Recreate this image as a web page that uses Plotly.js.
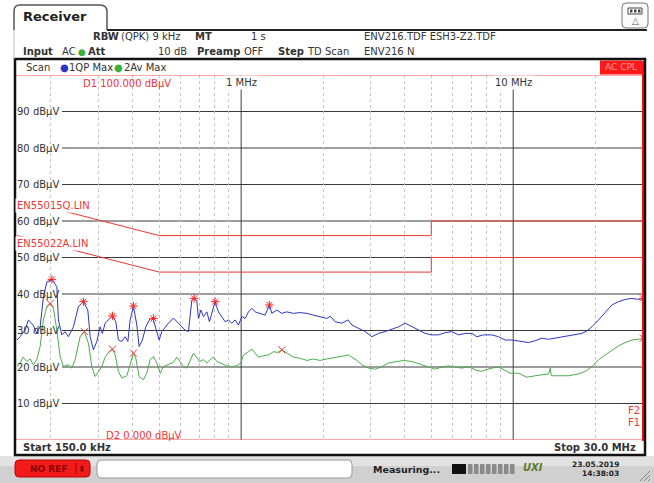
<!DOCTYPE html>
<html><head><meta charset="utf-8">
<script src="https://cdn.plot.ly/plotly-3.0.1.min.js"></script>
<style>body{margin:0;background:#fff}#c{width:654px;height:483px}</style>
</head><body><div id="c"></div><script>
// ---- data (MHz, dBµV) ----
const qpFreq=[0.150,0.154,0.1607,0.1652,0.1719,0.1773,0.1824,0.1876,0.1931,0.2014,
0.2101,0.2130,0.2193,0.2254,0.2318,0.2418,0.2522,0.2631,0.2731,0.2786,
0.2864,0.2948,0.3031,0.3091,0.3162,0.3252,0.3364,0.3462,0.3539,0.3642,
0.3746,0.3833,0.3908,0.4018,0.4136,0.4217,0.4336,0.4462,0.4628,0.4760,
0.4899,0.4995,0.5111,0.5224,0.5404,0.5638,0.5803,0.5967,0.6224,0.6401,
0.6494,0.6588,0.6718,0.6875,0.6966,0.7110,0.7269,0.7481,0.7646,0.7803,
0.8024,0.8252,0.8494,0.8734,0.8982,0.9243,0.9504,0.9774,1.006,1.034,
1.064,1.095,1.126,1.175,1.225,1.270,1.297,1.353,1.411,1.472,
1.557,1.648,1.744,1.845,1.951,2.066,2.125,2.216,2.346,2.468,
2.553,2.700,2.857,3.024,3.197,3.383,3.581,3.787,4.009,4.243,
4.486,4.749,5.024,5.313,5.623,5.952,6.294,6.661,7.050,7.355,
7.778,8.350,8.831,9.346,9.890,10.46,11.38,12.05,12.75,13.49,
14.27,15.10,15.97,16.90,17.89,18.66,19.47,20.59,21.79,23.07,
24.38,25.81,27.32,28.89,30.0];
const qpMax=[27.4,28.3,30.1,32.9,31.5,29.3,31.0,39.2,43.3,44.0,
42.0,32.9,28.8,29.7,28.3,31.0,36.5,37.9,35.6,28.3,
24.7,27.0,31.0,29.2,32.0,33.0,34.0,32.4,27.4,27.0,
28.3,27.0,32.9,36.7,31.5,25.6,27.4,31.0,33.3,32.9,
29.7,27.4,29.7,30.6,32.0,33.4,32.4,31.5,30.1,29.7,
33.8,38.3,38.8,37.9,33.3,35.6,33.8,35.1,32.4,34.7,
37.9,35.1,33.8,32.4,32.9,32.0,32.9,31.5,33.8,33.3,
35.1,36.1,35.1,34.7,34.2,37.0,34.7,35.6,34.7,35.1,
34.7,34.9,34.7,34.2,33.8,33.3,33.9,32.4,32.0,32.9,
31.5,30.6,29.7,28.3,29.2,29.7,30.3,31.0,32.0,31.0,
30.1,29.2,28.8,28.8,29.4,29.7,28.8,29.2,29.2,28.3,
28.8,28.8,28.3,27.4,27.4,27.2,26.7,27.2,27.9,27.6,
27.9,28.3,28.5,28.8,29.2,29.9,31.0,32.9,35.1,37.0,
37.9,38.5,38.8,38.5,38.8];
const avFreq=[0.150,0.154,0.1579,0.1629,0.1676,0.1723,0.1773,0.1824,0.1876,0.1931,
0.1985,0.2042,0.2101,0.2161,0.2222,0.2318,0.2385,0.2453,0.2559,0.2654,
0.2745,0.2826,0.2906,0.2988,0.3076,0.3162,0.3271,0.3364,0.3442,0.3539,
0.3642,0.3801,0.3908,0.4018,0.4101,0.4217,0.4373,0.4500,0.4628,0.4760,
0.4899,0.5038,0.5180,0.5404,0.5638,0.5803,0.5967,0.6136,0.6316,0.6494,
0.6678,0.6832,0.7026,0.7269,0.7481,0.7691,0.7911,0.8140,0.8494,0.8860,
0.9243,0.9643,0.9975,1.020,1.064,1.095,1.126,1.158,1.208,1.260,
1.315,1.360,1.411,1.472,1.557,1.648,1.744,1.845,1.951,2.066,
2.156,2.279,2.412,2.481,2.553,2.663,2.778,2.938,3.110,3.291,
3.479,3.684,3.951,4.243,4.551,4.883,5.168,5.470,5.783,6.121,
6.477,6.849,7.250,7.672,7.890,8.350,8.831,9.262,9.750,10.46,
11.23,12.05,12.75,13.49,13.68,13.80,14.67,15.97,17.38,18.40,
19.47,20.59,21.79,23.07,24.38,25.81,27.32,28.89,30.0];
const avMax=[20.1,21.1,22.7,21.5,22.2,20.6,22.0,25.6,32.9,36.5,
37.4,36.1,30.1,22.9,20.1,20.6,19.7,22.0,28.3,29.7,
26.5,20.1,17.4,18.8,20.1,22.7,24.2,24.9,23.3,18.8,
17.0,17.6,21.1,23.8,22.4,17.4,16.5,18.3,22.0,22.9,
21.1,18.3,20.1,20.6,21.3,22.7,21.5,20.1,19.7,22.0,
23.8,22.9,21.5,22.0,21.1,22.0,22.7,21.5,20.9,20.3,
20.1,20.3,21.1,23.3,24.2,24.9,23.8,22.7,23.1,23.3,
24.2,24.0,24.7,23.8,22.7,22.4,21.8,22.2,21.8,22.2,
22.4,22.7,23.1,23.3,22.7,21.8,20.6,19.7,19.4,20.1,
21.1,21.5,21.8,21.5,20.8,20.0,19.4,20.0,20.3,20.0,
19.7,20.1,19.2,18.8,19.2,19.7,20.0,19.2,18.3,18.3,
17.2,17.6,17.9,18.1,19.7,17.6,17.6,17.6,18.1,18.8,
20.1,22.0,23.3,24.7,25.8,26.7,27.4,27.6,27.9];
const qpPeakFreq=[0.2014,0.2631,0.3364,0.4018,0.4760,0.6718,0.8024,1.270,30.0];
const qpPeakVal=[44.0,37.9,34.0,36.7,33.3,38.8,37.9,37.0,38.8];
const avPeakFreq=[0.1985,0.2654,0.3364,0.4018,1.411,30.0];
const avPeakVal=[37.4,29.7,24.9,23.8,24.7,27.9];
const limitFreq=[0.15,0.5,5,5,30];
const en55015q=[66,56,56,60,60];
const en55022a=[56,46,46,50,50];
const levelTicks=[10,20,30,40,50,60,70,80,90];
const levelLabels=levelTicks.map(v=>v+' dBµV');
const minorFreq=[0.2,0.3,0.4,0.5,0.6,0.7,0.8,0.9,2,3,4,5,6,7,8,9,20];
const decadeFreq=[1,10];
const decadeLabels=['1 MHz','10 MHz'];

// ---- geometry helpers (pixel -> paper) ----
const L=17,R=643,T=75,B=440;
const P=px=>(px-L)/(R-L), Q=py=>(B-py)/(B-T);
const F='DejaVu Sans';
function txt(text,px,py,o={}){return {text:text,x:P(px),y:Q(py),xref:'paper',yref:'paper',
 xanchor:o.a||'left',yanchor:'middle',showarrow:false,borderpad:o.pad||0,bgcolor:o.bg||'rgba(0,0,0,0)',
 font:{family:o.f||F,size:o.s||10,color:o.c||'#333'}};}
function rect(x0,y0,x1,y1,fill,lc,lw,layer){return {type:'rect',xref:'paper',yref:'paper',x0:P(x0),x1:P(x1),y0:Q(y0),y1:Q(y1),
 fillcolor:fill||'rgba(0,0,0,0)',line:{color:lc||'rgba(0,0,0,0)',width:lw||0},layer:layer||'above'};}
function seg(x0,y0,x1,y1,c,w){return {type:'line',xref:'paper',yref:'paper',x0:P(x0),x1:P(x1),y0:Q(y0),y1:Q(y1),line:{color:c,width:w},layer:'above'};}
function rpath(x0,y0,x1,y1,r,fill,lc,lw){
 const a=P(x0),b=P(x1),c=Q(y0),d=Q(y1),rx=r/(R-L),ry=r/(B-T);
 return {type:'path',xref:'paper',yref:'paper',layer:'above',fillcolor:fill,line:{color:lc,width:lw},
 path:`M${a+rx},${c} L${b-rx},${c} Q${b},${c} ${b},${c-ry} L${b},${d+ry} Q${b},${d} ${b-rx},${d} L${a+rx},${d} Q${a},${d} ${a},${d+ry} L${a},${c-ry} Q${a},${c} ${a+rx},${c} Z`};}

const RED='#f03535';
const traces=[];
decadeFreq.forEach(f=>traces.push({x:[f,f],y:[0,100],mode:'lines',line:{color:'#3c3c3c',width:1},hoverinfo:'skip',showlegend:false}));
traces.push({x:limitFreq,y:en55015q,mode:'lines',line:{color:RED,width:1},showlegend:false});
traces.push({x:limitFreq,y:en55022a,mode:'lines',line:{color:RED,width:1},showlegend:false});
traces.push({x:avFreq,y:avMax,mode:'lines',line:{color:'#4aac4a',width:1},showlegend:false,name:'2Av Max'});
traces.push({x:qpFreq,y:qpMax,mode:'lines',line:{color:'#2d36c4',width:1},showlegend:false,name:'1QP Max'});
traces.push({x:qpPeakFreq,y:qpPeakVal,mode:'markers',marker:{symbol:'asterisk-open',size:7,color:'#ff2020',line:{color:'#ff2020',width:1}},showlegend:false});
traces.push({x:avPeakFreq,y:avPeakVal,mode:'markers',marker:{symbol:'x-thin-open',size:7,color:'#ff3030',line:{color:'#ff3030',width:1}},showlegend:false});

const shapes=[];
levelTicks.forEach(v=>shapes.push({type:'line',xref:'paper',yref:'y',x0:P(62),x1:1,y0:v,y1:v,line:{color:'#3a3a3a',width:1},layer:'below'}));
// D1 / D2 lines
shapes.push({type:'line',xref:'paper',yref:'y',x0:P(15),x1:1,y0:100,y1:100,line:{color:'#ff5050',width:1},layer:'above'});
shapes.push({type:'line',xref:'paper',yref:'y',x0:P(15),x1:P(645),y0:0,y1:0,line:{color:'#ff5050',width:1},layer:'above'});
// red right edge
shapes.push(seg(643,61,643,441,'#ff1010',2));
// AC CPL box
shapes.push(rect(600,60.5,642,74.5,'#ff1a1a'));
// inner box
shapes.push(rect(15,59,645,455,null,'#111',2.5));
// tab + header line
shapes.push({type:'path',xref:'paper',yref:'paper',layer:'above',line:{color:'#555',width:1.5},
 path:`M${P(14)},${Q(30)} L${P(14)},${Q(11)} Q${P(14)},${Q(5)} ${P(20)},${Q(5)} L${P(100)},${Q(5)} Q${P(107)},${Q(5)} ${P(107)},${Q(12)} L${P(107)},${Q(30)}`});
shapes.push(seg(107,30,647,30,'#222',2));
shapes.push(seg(14,30,14,59,'#bbb',1));
// top-right icon
shapes.push(rpath(622,3,648,28,4,'#fafafa','#777',1));
shapes.push(rect(628,8,642,14,'#fff','#444',1));
for(let i=0;i<3;i++) shapes.push(rect(630+i*4,9.5,632.5+i*4,12.5,'#444'));
// status bar
shapes.push(rect(0,456,654,483,'#d0d0d0',null,0,'below'));
shapes.push(rect(0,456,654,466,'#e2e2e2',null,0,'below'));
shapes.push(rpath(15,460,90,477,4,'#f21a1a','#b00',1));
shapes.push(seg(76,463,76,474,'#900',1));
shapes.push(rpath(97,460,352,478,4,'#ffffff','#999',1));
shapes.push(rect(452,464,466,474,'#111'));
for(let i=0;i<8;i++) shapes.push(rect(468+i*6,464,472.5+i*6,474,'#8a8a8a'));
for(let i=0;i<3;i++) shapes.push(seg(640+i*4,481,650,471+i*4,'#888',1));

const ann=[];
levelTicks.forEach((v,i)=>ann.push({text:levelLabels[i],x:P(61),xref:'paper',y:v,yref:'y',xanchor:'right',yanchor:'middle',showarrow:false,font:{family:F,size:10,color:'#333'}}));
decadeFreq.forEach((f,i)=>ann.push({text:decadeLabels[i],x:Math.log10(f),xref:'x',y:Q(82),yref:'paper',xanchor:'center',yanchor:'middle',showarrow:false,bgcolor:'#fff',borderpad:1,font:{family:F,size:10,color:'#333'}}));
ann.push(txt('EN55015Q.LIN',15,205,{c:RED,bg:'#fff',pad:1}));
ann.push(txt('EN55022A.LIN',15,243,{c:RED,bg:'#fff',pad:1}));
ann.push(txt('D1 100.000 dBµV',82,83,{c:RED}));
ann.push(txt('D2 0.000 dBµV',105,435,{c:RED}));
ann.push(txt('F2',641,410,{c:RED,a:'right'}));
ann.push(txt('F1',641,422,{c:RED,a:'right'}));
ann.push(txt('AC CPL',621,67.5,{c:'#ff9a9a',a:'center',s:9}));
ann.push(txt('<b>Receiver</b>',22,17,{s:13,c:'#222'}));
ann.push(txt('<b>RBW</b>',92,37));
ann.push(txt('(QPK) 9 kHz',120,37));
ann.push(txt('<b>MT</b>',194,37));
ann.push(txt('1 s',250,37));
ann.push(txt('ENV216.TDF ESH3-Z2.TDF',363,37));
ann.push(txt('<b>Input</b>',22,51.5));
ann.push(txt('AC',61,51.5));
ann.push(txt('●',76.5,51.5,{c:'#3cb03c',s:9}));
ann.push(txt('<b>Att</b>',87,51.5));
ann.push(txt('10 dB',157,51.5));
ann.push(txt('<b>Preamp</b>',196,51.5));
ann.push(txt('OFF',243,51.5));
ann.push(txt('<b>Step</b>',277,51.5));
ann.push(txt('TD Scan',306,51.5));
ann.push(txt('ENV216 N',363,51.5));
ann.push(txt('Scan',25,67));
ann.push(txt('●',59,67,{c:'#2d36c4',s:10}));
ann.push(txt('1QP Max',68,67));
ann.push(txt('●',113,67,{c:'#3cb03c',s:10}));
ann.push(txt('2Av Max',123,67));
ann.push(txt('△',635,21,{a:'center',s:9,c:'#555'}));
ann.push(txt('<b>Start 150.0 kHz</b>',22,448));
ann.push(txt('<b>Stop 30.0 MHz</b>',637,448,{a:'right'}));
ann.push(txt('<b>NO REF</b>',29,468.5,{c:'#8a0000',s:9}));
ann.push(txt('<b>⬍</b>',82,468.5,{c:'#8a0000',s:9,a:'center'}));
ann.push(txt('<b>Measuring...</b>',372,469,{c:'#222',s:9.5}));
ann.push(txt('<b><i>UXI</i></b>',522,468,{c:'#5a7a2a',s:10}));
ann.push(txt('<b>23.05.2019</b>',620,464,{c:'#222',s:7.5,a:'right'}));
ann.push(txt('<b>14:38:03</b>',620,473,{c:'#222',s:7.5,a:'right'}));

const layout={width:654,height:483,margin:{l:L,r:654-R,t:T,b:483-B,pad:0},
 paper_bgcolor:'#fff',plot_bgcolor:'#fff',showlegend:false,
 xaxis:{type:'log',range:[Math.log10(0.15),Math.log10(30)],tickvals:minorFreq,showticklabels:false,ticks:'',
  showgrid:true,gridcolor:'#c4c4c4',griddash:'dot',gridwidth:1,zeroline:false,showline:false,fixedrange:true},
 yaxis:{range:[0,100],showgrid:false,showticklabels:false,ticks:'',zeroline:false,showline:false,fixedrange:true},
 shapes:shapes,annotations:ann};
Plotly.newPlot('c',traces,layout,{staticPlot:true,displayModeBar:false});
</script></body></html>
